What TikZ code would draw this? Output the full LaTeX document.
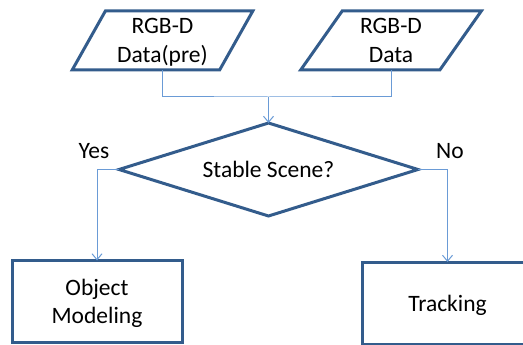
\documentclass[tikz,border=0pt]{standalone}
\usepackage{fontspec}
\setmainfont{Carlito}
\usetikzlibrary{shapes.geometric,arrows.meta}
\definecolor{edgeblue}{HTML}{335C8C}
\definecolor{linkblue}{HTML}{6A9BD6}
\begin{document}
\begin{tikzpicture}[x=1pt,y=-1pt,
  every node/.style={font=\fontsize{23.5}{28.5}\selectfont, text=black},
  shapebox/.style={draw=edgeblue, line width=3pt, fill=white, inner sep=0pt, outer sep=0pt,
    align=center, text depth=0pt},
  datain/.style={shapebox, trapezium, trapezium left angle=59, trapezium right angle=121,
    trapezium stretches=true, minimum width=181pt, minimum height=59pt},
  decide/.style={shapebox, diamond, aspect=3.2, minimum width=299pt, minimum height=93pt},
  process/.style={shapebox, rectangle, minimum width=#1, minimum height=82pt},
  link/.style={draw=linkblue, line width=1pt},
  flow/.style={link, -{Straight Barb[length=6pt,width=10pt,line width=1pt]}},
]
\useasboundingbox (0,0) rectangle (523,345);

% inputs
\node[datain] (pre) at (162.5,40.5) {RGB-D\\Data(pre)};
\node[datain] (cur) at (391,40.5) {RGB-D\\Data};

% decision
\node[decide] (dec) at (268.5,169.5) {Stable Scene?};

% outcomes
\node[process=170pt] (obj) at (97,301.5) {Object\\Modeling};
\node[process=170pt] (trk) at (447.5,303) {Tracking};

% branch labels
\node (yes) at (94,151) {Yes};
\node (no) at (450,151) {No};

% merge the two inputs and feed the decision
\coordinate (join) at (dec.north |- 0,97);
\draw[link] (pre.south) |- (join) -| (cur.south);
\draw[flow] (join) -- (dec.north);

% decision outcomes
\draw[flow] (dec.west) -| (obj.north);
\draw[flow] (dec.east) -| (trk.north);
\end{tikzpicture}
\end{document}
